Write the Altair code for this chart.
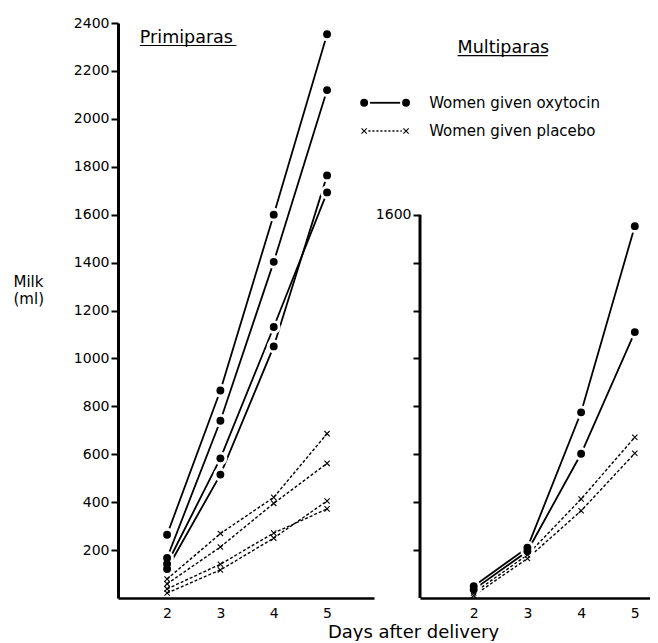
import altair as alt
import pandas as pd

FONT = "DejaVu Sans"

days = [2, 3, 4, 5]

# Primiparas, each row one woman (days 2..5), ml
prim_oxy = [[264, 866, 1600, 2353],
            [167, 740, 1403, 2120],
            [142, 583, 1131, 1693],
            [121, 515, 1050, 1764]]
prim_plac = [[79, 269, 420, 686],
             [59, 213, 395, 562],
             [38, 141, 271, 372],
             [21, 117, 250, 405]]
# Multiparas
multi_oxy = [[49, 210, 775, 1552],
             [35, 195, 602, 1110]]
multi_plac = [[21, 180, 413, 671],
              [10, 165, 364, 604]]

left_y_ticks = [200, 400, 600, 800, 1000, 1200, 1400, 1600, 1800, 2000, 2200, 2400]
right_y_ticks = [200, 400, 600, 800, 1000, 1200, 1400, 1600]
x_ticks = [2, 3, 4, 5]

legend_labels = ["Women given oxytocin", "Women given placebo"]


def frame(series, prefix):
    rows = []
    for i, s in enumerate(series):
        for d, v in zip(days, s):
            rows.append({"day": d, "ml": v, "subject": f"{prefix}{i}"})
    return pd.DataFrame(rows)


XSHAPE = "M-1,-1L1,1M-1,1L1,-1"


def panel(oxy, plac, xdom, width, yaxis, xaxis, extra_layers):
    oxy_df = frame(oxy, "o")
    plac_df = frame(plac, "p")
    x = alt.X("day:Q", scale=alt.Scale(domain=xdom, nice=False, zero=False), axis=xaxis)
    y = alt.Y("ml:Q", scale=alt.Scale(domain=[0, 2400], nice=False, zero=True), axis=yaxis)
    oxy_line = alt.Chart(oxy_df).mark_line(color="black", strokeWidth=1.8).encode(
        x=x, y=y, detail="subject:N")
    plac_line = alt.Chart(plac_df).mark_line(color="black", strokeWidth=1.4, strokeDash=[3, 2]).encode(
        x=x, y=y, detail="subject:N")
    halo = alt.Chart(oxy_df).mark_point(filled=True, color="white", size=190, opacity=1).encode(x=x, y=y)
    dots = alt.Chart(oxy_df).mark_point(filled=True, color="black", size=62, opacity=1).encode(x=x, y=y)
    xs = alt.Chart(plac_df).mark_point(shape=XSHAPE, filled=False, color="black", size=28,
                                       strokeWidth=1.1, opacity=1).encode(x=x, y=y)
    layers = [plac_line, oxy_line, halo, dots, xs] + extra_layers(x, y)
    return alt.layer(*layers).properties(width=width, height=575)


def left_extra(x, y):
    t = pd.DataFrame({"day": [1.49], "ml": [2337], "t": ["Primiparas"]})
    u = pd.DataFrame({"day": [1.49], "day2": [3.30], "ml": [2306]})
    title = alt.Chart(t).mark_text(align="left", baseline="middle", fontSize=17.5, font=FONT,
                                   color="black").encode(x=x, y=y, text="t:N")
    ul = alt.Chart(u).mark_rule(color="black", strokeWidth=1.2).encode(x=x, x2="day2:Q", y=y)
    return [title, ul]


def right_extra(x, y):
    t = pd.DataFrame({"day": [1.70], "ml": [2295], "t": ["Multiparas"]})
    u = pd.DataFrame({"day": [1.70], "day2": [3.38], "ml": [2264]})
    title = alt.Chart(t).mark_text(align="left", baseline="middle", fontSize=17.5, font=FONT,
                                   color="black").encode(x=x, y=y, text="t:N")
    ul = alt.Chart(u).mark_rule(color="black", strokeWidth=1.2).encode(x=x, x2="day2:Q", y=y)
    # axis line only up to 1600
    ax = alt.Chart(pd.DataFrame({"day": [1.0], "ml": [0], "ml2": [1600]})).mark_rule(
        color="black", strokeWidth=3).encode(x=x, y=y, y2="ml2:Q")
    # legend
    leg_y = [2067, 1949]
    leg_line_o = alt.Chart(pd.DataFrame({"day": [0.07], "day2": [0.63], "ml": [leg_y[0]]})).mark_rule(
        color="black", strokeWidth=1.8).encode(x=x, x2="day2:Q", y=y)
    leg_line_p = alt.Chart(pd.DataFrame({"day": [0.04], "day2": [0.66], "ml": [leg_y[1]]})).mark_rule(
        color="black", strokeWidth=1.4, strokeDash=[2, 2]).encode(x=x, x2="day2:Q", y=y)
    leg_dots = alt.Chart(pd.DataFrame({"day": [-0.04, 0.74], "ml": [leg_y[0]] * 2})).mark_point(
        filled=True, color="black", size=62, opacity=1).encode(x=x, y=y)
    leg_xs = alt.Chart(pd.DataFrame({"day": [-0.04, 0.74], "ml": [leg_y[1]] * 2})).mark_point(
        shape=XSHAPE, filled=False, color="black", size=28, strokeWidth=1.1, opacity=1).encode(x=x, y=y)
    leg_text = alt.Chart(pd.DataFrame({"day": [1.17, 1.17], "ml": leg_y, "t": legend_labels})).mark_text(
        align="left", baseline="middle", fontSize=15, font=FONT, color="black").encode(x=x, y=y, text="t:N")
    return [ax, title, ul, leg_line_o, leg_line_p, leg_dots, leg_xs, leg_text]


common_axis = dict(labelFont=FONT, labelFontSize=14, labelColor="black", domainColor="black",
                   tickColor="black", grid=False, labelFlush=False, labelOverlap=False, format="d")

left_y_axis = alt.Axis(values=left_y_ticks, tickSize=7, tickWidth=2, domainWidth=3, labelPadding=2,
                       title=["Milk", "(ml)"], titleAngle=0, titleAlign="left", titleBaseline="alphabetic",
                       titleX=-105, titleY=263, titleLineHeight=17, titleFont=FONT, titleFontSize=15,
                       titleFontWeight="normal", titleColor="black", **common_axis)
left_x_axis = alt.Axis(values=x_ticks, ticks=False, tickSize=0, domainWidth=2.5, labelPadding=8,
                       title=None, **common_axis)
right_y_axis = alt.Axis(values=right_y_ticks, tickSize=7, tickWidth=2, domain=False, labelPadding=2,
                        labelExpr="datum.value == 1600 ? '1600' : ''", title=None, **common_axis)
right_x_axis = alt.Axis(values=x_ticks, ticks=False, tickSize=0, domainWidth=2.5, labelPadding=8,
                        title="Days after delivery", titleFont=FONT, titleFontSize=18,
                        titleFontWeight="normal", titleColor="black", titleAlign="center",
                        titleBaseline="middle", titleX=-7, titleY=34, **common_axis)

left = panel(prim_oxy, prim_plac, [1.08, 5.88], 256, left_y_axis, left_x_axis, left_extra)
right = panel(multi_oxy, multi_plac, [1.0, 5.283], 230, right_y_axis, right_x_axis, right_extra)

chart = alt.hconcat(left, right, spacing=46, bounds="flush").properties(
    padding={"left": 5, "top": 8, "right": 0, "bottom": 0},
    background="white",
).configure_view(stroke=None)

chart.save("out.html", embed_options={"renderer": "svg", "actions": False})
